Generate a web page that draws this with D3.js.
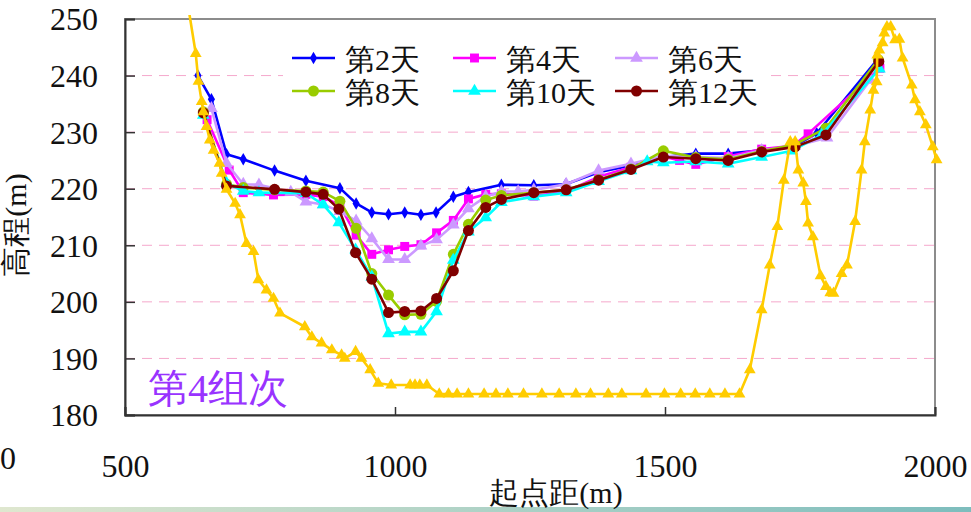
<!DOCTYPE html>
<html>
<head>
<meta charset="utf-8">
<script src="https://cdn.jsdelivr.net/npm/d3@7"></script>
<style>
  body { margin: 0; background: #fff; }
  svg { display: block; }
</style>
</head>
<body>
<svg id="chart" width="971" height="512"></svg>
<script>
// series names and colours
const dayNames = ["第2天", "第4天", "第6天", "第8天", "第10天", "第12天"];
const dayColors = ["#0000ff", "#ff00ff", "#cc99ff", "#99cc00", "#00ffff", "#800000"];
const dayMarks = ["diamond", "square", "triangle", "circle", "triangle", "circle"];

// 起点距 (m) and 高程 (m) for each day
const x2 = [635, 660, 688, 719, 777, 835, 898, 928, 957, 988, 1018, 1048, 1076, 1108, 1136, 1197, 1257, 1316, 1377, 1437, 1497, 1557, 1617, 1679, 1737, 1781, 1893];
const y2 = [240.0, 235.8, 226.1, 225.2, 223.2, 221.4, 220.1, 217.4, 215.8, 215.5, 215.8, 215.4, 215.8, 218.6, 219.4, 220.7, 220.6, 220.8, 222.9, 224.1, 225.6, 226.2, 226.2, 226.8, 227.4, 229.8, 242.8];

const x4 = [652, 693, 719, 775, 835, 867, 898, 928, 957, 988, 1018, 1048, 1077, 1108, 1136, 1168, 1197, 1257, 1317, 1377, 1437, 1497, 1527, 1557, 1617, 1679, 1737, 1765, 1898];
const y4 = [232.2, 223.3, 219.3, 218.9, 219.0, 218.6, 217.0, 211.8, 208.4, 209.2, 209.8, 210.1, 212.2, 214.4, 218.2, 219.0, 219.1, 218.7, 219.5, 222.1, 223.8, 225.7, 225.0, 224.3, 225.7, 227.0, 227.6, 229.7, 241.3];

const x6 = [660, 688, 719, 748, 807, 835, 867, 898, 928, 957, 988, 1018, 1048, 1077, 1108, 1136, 1168, 1197, 1228, 1257, 1317, 1377, 1437, 1497, 1557, 1617, 1679, 1740, 1800, 1880];
const y6 = [234.2, 224.5, 220.8, 220.7, 219.4, 217.7, 217.2, 216.0, 214.3, 211.2, 207.5, 207.5, 209.9, 211.0, 213.6, 216.5, 218.6, 219.5, 219.5, 219.8, 220.8, 223.2, 224.4, 225.8, 225.6, 225.4, 226.8, 227.5, 229.0, 239.2];

const x8 = [645, 688, 719, 777, 835, 867, 898, 928, 957, 988, 1018, 1048, 1077, 1108, 1136, 1168, 1197, 1257, 1317, 1377, 1437, 1497, 1557, 1617, 1679, 1740, 1798, 1895];
const y8 = [233.6, 220.8, 220.2, 219.8, 219.6, 219.4, 217.8, 213.0, 205.0, 201.2, 197.7, 197.8, 200.1, 208.4, 213.7, 218.0, 218.8, 219.3, 219.8, 221.6, 223.5, 226.7, 225.5, 225.2, 226.6, 227.8, 230.7, 242.8];

const x10 = [645, 688, 719, 748, 835, 867, 896, 927, 957, 988, 1018, 1048, 1077, 1108, 1136, 1168, 1197, 1257, 1317, 1377, 1437, 1467, 1497, 1557, 1617, 1679, 1735, 1790, 1897];
const y10 = [233.0, 221.0, 219.6, 219.3, 219.2, 217.2, 214.0, 209.2, 204.4, 194.4, 194.7, 194.7, 198.3, 207.4, 212.4, 214.9, 217.6, 218.6, 219.3, 221.3, 223.2, 224.8, 224.6, 224.8, 224.4, 225.6, 226.7, 229.5, 241.2];

const x12 = [645, 688, 777, 835, 867, 896, 927, 957, 988, 1018, 1048, 1077, 1108, 1136, 1168, 1197, 1257, 1317, 1377, 1437, 1497, 1557, 1617, 1679, 1741, 1798, 1896];
const y12 = [233.4, 220.5, 219.9, 219.4, 219.0, 216.4, 208.7, 204.0, 198.1, 198.3, 198.4, 200.6, 205.5, 212.6, 216.7, 218.1, 219.3, 219.8, 221.5, 223.4, 225.6, 225.3, 225.0, 226.5, 227.4, 229.5, 242.5];

// original bed (yellow, no legend entry)
const xBed = [614, 631, 636, 642, 645, 651, 657, 664, 675, 679, 688, 704, 713, 725, 738, 747, 762, 775, 787, 833, 846, 864, 883, 901, 907, 927, 938, 954, 969, 993, 1028, 1037, 1046, 1059,
  1082, 1099, 1115, 1136, 1165, 1187, 1209, 1238, 1272, 1304, 1335, 1362, 1395, 1420, 1465, 1499, 1529, 1556, 1583, 1611, 1638,
  1657, 1679, 1694, 1708, 1720, 1732, 1741, 1747, 1756, 1761, 1765, 1774, 1788, 1798, 1806, 1812, 1827, 1837, 1852, 1864, 1870, 1880, 1886, 1892, 1893, 1897, 1903, 1906, 1911, 1918, 1926, 1934, 1940, 1957, 1963, 1972, 1983, 1996, 2003];
const yBed = [254.0, 243.9, 239.0, 235.4, 233.6, 231.0, 228.6, 226.8, 224.5, 222.7, 219.9, 217.4, 215.4, 210.3, 208.9, 203.9, 202.1, 200.6, 198.0, 195.6, 193.8, 192.7, 191.5, 190.6, 190.0, 191.2, 190.0, 188.0, 185.6, 185.3, 185.3, 185.3, 185.3, 185.3,
  183.7, 183.7, 183.7, 183.7, 183.7, 183.7, 183.7, 183.7, 183.7, 183.7, 183.7, 183.7, 183.7, 183.7, 183.7, 183.7, 183.7, 183.7, 183.7, 183.7, 183.7,
  188.0, 198.6, 206.5, 213.3, 221.5, 228.3, 228.3, 223.3, 221.0, 217.7, 213.9, 211.5, 204.6, 202.7, 201.6, 201.5, 205.0, 206.5, 214.2, 223.3, 228.3, 233.9, 237.4, 238.9, 243.6, 244.5, 245.8, 247.5, 248.6, 248.6, 246.3, 246.4, 243.1, 238.3, 235.7, 233.6, 231.3, 227.4, 225.1];

const xTicks = [500, 1000, 1500, 2000];
const yTicks = [180, 190, 200, 210, 220, 230, 240, 250];
const gridValues = [190, 200, 210, 220, 230, 240];

const dayX = [x2, x4, x6, x8, x10, x12];
const dayY = [y2, y4, y6, y8, y10, y12];

const plotLeft = 125, plotRight = 935, plotTop = 19, plotBottom = 415;
const serif = "\"Liberation Serif\"";

const svg = d3.select("#chart");
const x = d3.scaleLinear().domain([500, 2000]).range([plotLeft, plotRight]);
const y = d3.scaleLinear().domain([180, 250]).range([plotBottom, plotTop]);

// bottom strip
const grad = svg.append("defs").append("linearGradient").attr("id", "strip");
grad.append("stop").attr("offset", "0%").attr("stop-color", "#dfe7cf");
grad.append("stop").attr("offset", "100%").attr("stop-color", "#7dbdbd");
svg.append("rect").attr("x", 0).attr("y", 507).attr("width", 971).attr("height", 5).attr("fill", "url(#strip)");

svg.append("clipPath").attr("id", "clipTop")
  .append("rect").attr("x", 0).attr("y", 15).attr("width", 971).attr("height", 497);

// grid
svg.append("g").selectAll("line").data(gridValues).join("line")
  .attr("x1", plotLeft).attr("x2", plotRight)
  .attr("y1", d => y(d)).attr("y2", d => y(d))
  .attr("stroke", "#f5a8cc").attr("stroke-width", 1).attr("stroke-dasharray", "10,7");

// frame
svg.append("rect").attr("x", plotLeft).attr("y", plotTop)
  .attr("width", plotRight - plotLeft).attr("height", plotBottom - plotTop)
  .attr("fill", "none").attr("stroke", "#8c8c8c").attr("stroke-width", 2);

const yAxis = svg.append("g").attr("transform", `translate(${plotLeft},0)`)
  .call(d3.axisLeft(y).tickValues(yTicks).tickFormat(d3.format("d")).tickSize(-10).tickPadding(27));
const xAxis = svg.append("g").attr("transform", `translate(0,${plotBottom})`)
  .call(d3.axisBottom(x).tickValues(xTicks).tickFormat(d3.format("d")).tickSize(-8).tickPadding(42));
[yAxis, xAxis].forEach(g => {
  g.select(".domain").attr("stroke", "#333").attr("stroke-width", 2);
  g.selectAll(".tick line").attr("stroke", "#333").attr("stroke-width", 1.5);
  g.selectAll(".tick text").style("font-family", serif).attr("font-size", 32).attr("fill", "#111");
});
yAxis.selectAll(".tick text").attr("dy", "0.34em");
xAxis.selectAll(".tick text").attr("dy", "0.62em");

svg.append("text").attr("x", 0).attr("y", 469).style("font-family", serif)
  .attr("font-size", 32).attr("fill", "#111").text("0");

// axis titles
svg.append("text").attr("x", 556).attr("y", 503).attr("text-anchor", "middle").style("font-family", serif)
  .attr("font-size", 30).attr("fill", "#111").text("起点距(m)");
svg.append("text").attr("transform", "translate(26,225) rotate(-90)").attr("text-anchor", "middle")
  .style("font-family", serif).attr("font-size", 30).attr("fill", "#111").text("高程(m)");

// group label
svg.append("text").attr("x", 148).attr("y", 402).style("font-family", serif)
  .attr("font-size", 40).attr("fill", "#9933ff").text("第4组次");

const symbolTypes = { diamond: d3.symbolDiamond, square: d3.symbolSquare, triangle: d3.symbolTriangle, circle: d3.symbolCircle };
const symbolSizes = { diamond: 45, square: 80, triangle: 70, circle: 95 };
const line = d3.line().x(d => x(d[0])).y(d => y(d[1]));

function drawSeries(xs, ys, color, mark, size, clip) {
  const pts = xs.map((v, i) => [v, ys[i]]);
  const g = svg.append("g");
  if (clip) g.attr("clip-path", "url(#clipTop)");
  g.append("path").attr("d", line(pts)).attr("fill", "none")
    .attr("stroke", color).attr("stroke-width", 2.6).attr("stroke-linejoin", "round");
  g.selectAll("path.m").data(pts).join("path").attr("class", "m")
    .attr("transform", d => `translate(${x(d[0])},${y(d[1])})`)
    .attr("d", d3.symbol().type(symbolTypes[mark]).size(size))
    .attr("fill", color);
}

dayNames.forEach((name, i) => {
  drawSeries(dayX[i], dayY[i], dayColors[i], dayMarks[i], symbolSizes[dayMarks[i]], false);
});
drawSeries(xBed, yBed, "#ffcc00", "triangle", 60, true);

// legend
svg.append("rect").attr("x", 283).attr("y", 36).attr("width", 487).attr("height", 72).attr("fill", "#fff");
const legCols = [292, 453, 615];
const legRows = [58, 91];
dayNames.forEach((name, i) => {
  const lx = legCols[i % 3], ly = legRows[Math.floor(i / 3)];
  const g = svg.append("g");
  g.append("line").attr("x1", lx).attr("x2", lx + 43).attr("y1", ly).attr("y2", ly)
    .attr("stroke", dayColors[i]).attr("stroke-width", 2.6);
  g.append("path").attr("transform", `translate(${lx + 21.5},${ly})`)
    .attr("d", d3.symbol().type(symbolTypes[dayMarks[i]]).size(symbolSizes[dayMarks[i]]))
    .attr("fill", dayColors[i]);
  g.append("text").attr("x", lx + 53).attr("y", ly + 12).style("font-family", serif)
    .attr("font-size", 30).attr("fill", "#111").text(name);
});
</script>
</body>
</html>
